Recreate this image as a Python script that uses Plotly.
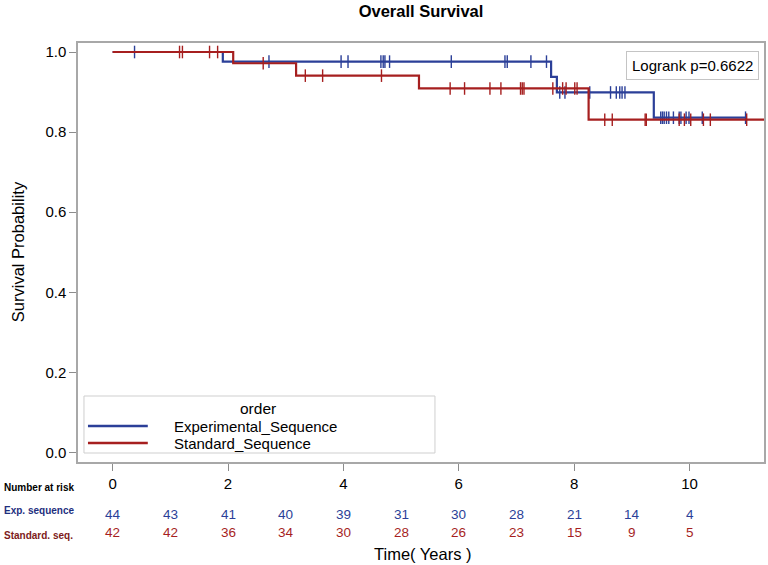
import numpy as np
import plotly.graph_objects as go

# Kaplan-Meier step curves (time in years, survival probability)
exp_times = [0, 1.91, 7.60, 7.70, 9.38, 10.97]
exp_surv = [1.0, 0.976, 0.938, 0.899, 0.836, 0.836]
std_times = [0, 2.09, 3.18, 5.31, 8.25, 11.4]
std_surv = [1.0, 0.972, 0.941, 0.909, 0.831, 0.831]

# censored observations
exp_censor = [0.38, 2.71, 3.96, 4.08, 4.65, 4.69, 4.72, 4.80, 5.87, 6.80, 6.84,
              7.25, 7.52, 7.75, 7.84, 8.27, 8.63, 8.73, 8.79, 8.83, 8.88, 9.50,
              9.53, 9.56, 9.60, 9.64, 9.72, 9.82, 9.85, 9.94, 9.99, 10.22, 10.97]
std_censor = [1.16, 1.21, 1.68, 1.82, 2.61, 3.34, 3.64, 4.66, 5.85, 6.10, 6.54,
              6.73, 7.07, 7.10, 7.13, 7.63, 7.80, 7.86, 8.01, 8.05, 8.53, 8.66,
              9.23, 9.25, 9.82, 9.91, 10.02, 10.24, 10.36, 10.99]

# number at risk table
risk_times = [0, 1, 2, 3, 4, 5, 6, 7, 8, 9, 10]
exp_risk = [44, 43, 41, 40, 39, 31, 30, 28, 21, 14, 4]
std_risk = [42, 42, 36, 34, 30, 28, 26, 23, 15, 9, 5]

group_names = ["Experimental_Sequence", "Standard_Sequence"]
row_labels = ["Exp. sequence", "Standard. seq."]
x_ticks = [0, 2, 4, 6, 8, 10]
y_ticks = [0.0, 0.2, 0.4, 0.6, 0.8, 1.0]

BLUE = "#2B3F98"
RED = "#A61F1F"
FONT = "Liberation Sans, Arial, sans-serif"

W, H = 768, 565
ML, MR, MT, MB = 78, 2, 43, 103
PW, PH = W - ML - MR, H - MT - MB


def px_x(px):
    return (px - ML) / PW


def px_y(py):
    return (MT + PH - py) / PH


def level_at(times, surv, t):
    i = np.searchsorted(times, t, side="right") - 1
    return surv[i]


def label(text, x, y, size, color="black", xanchor="center", xref="paper", **kw):
    return dict(text=text, xref=xref, yref="paper", x=x, y=y, xanchor=xanchor,
                yanchor="middle", showarrow=False, font=dict(size=size, color=color), **kw)


fig = go.Figure()

for times, surv, cens, col, name in [
    (exp_times, exp_surv, exp_censor, BLUE, group_names[0]),
    (std_times, std_surv, std_censor, RED, group_names[1]),
]:
    fig.add_trace(go.Scatter(x=times, y=surv, mode="lines", line_shape="hv",
                             line=dict(color=col, width=2.2), name=name,
                             showlegend=False, hoverinfo="skip"))
    cy = [level_at(times, surv, t) for t in cens]
    fig.add_trace(go.Scatter(x=cens, y=cy, mode="markers",
                             marker=dict(symbol="line-ns", size=9,
                                         line=dict(color=col, width=1.4)),
                             showlegend=False, hoverinfo="skip"))

ann = []
# axis titles
ann.append(label("Time( Years )", px_x(424), px_y(554), 16.5))
ann.append(label("Survival Probability", px_x(18), px_y(252), 16.5, textangle=-90))
# logrank box
ann.append(label("Logrank p=0.6622", px_x(694.5), px_y(65), 15, bgcolor="white",
                 bordercolor="#C4C4C4", borderwidth=1, borderpad=5))
# number at risk
ann.append(label("<b>Number at risk</b>", px_x(2), px_y(487), 10, xanchor="left"))
for lab, vals, col, lcol, ly, vy in [
    (row_labels[0], exp_risk, BLUE, "#1F2F7E", 510.5, 514.5),
    (row_labels[1], std_risk, RED, "#7E1B1B", 535, 532.5),
]:
    ann.append(label("<b>" + lab + "</b>", px_x(2), px_y(ly), 10, lcol, xanchor="left"))
    for t, v in zip(risk_times, vals):
        ann.append(label(str(v), t, px_y(vy), 13.5, col, xref="x"))

# legend (drawn by hand to match the wide SAS legend box)
ann.append(label("order", px_x(259), px_y(408), 15.5))
shapes = [dict(type="rect", xref="paper", yref="paper", x0=px_x(84), x1=px_x(436),
               y0=px_y(396), y1=px_y(453), line=dict(color="#CFCFCF", width=1),
               fillcolor="white", layer="above")]
for name, col, ly in [(group_names[0], BLUE, 426), (group_names[1], RED, 443)]:
    shapes.append(dict(type="line", xref="paper", yref="paper", x0=px_x(88), x1=px_x(148),
                       y0=px_y(ly), y1=px_y(ly), line=dict(color=col, width=2.5), layer="above"))
    ann.append(label(name, px_x(172), px_y(ly), 15, xanchor="left"))

fig.update_layout(
    width=W, height=H,
    margin=dict(l=ML, r=MR, t=MT, b=MB),
    paper_bgcolor="white", plot_bgcolor="white",
    font=dict(family=FONT, color="black"),
    title=dict(text="<b>Overall Survival</b>", x=0.5, xref="paper", y=1 - 11 / H,
               yref="container", yanchor="middle", font=dict(size=16.5, color="black")),
    xaxis=dict(range=[-0.6, 11.29], tickvals=x_ticks, ticks="outside", ticklen=7,
               tickcolor="#8C8C8C", showline=True, linecolor="#A8A8A8", linewidth=1.5,
               mirror=True, showgrid=False, zeroline=False, tickfont=dict(size=15),
               ticklabelstandoff=0),
    yaxis=dict(range=[-0.0235, 1.0225], tickvals=y_ticks, tickformat=".1f", ticks="outside",
               ticklen=7, tickcolor="#8C8C8C", showline=True, linecolor="#A8A8A8",
               linewidth=1.5, mirror=True, showgrid=False, zeroline=False,
               tickfont=dict(size=15)),
    annotations=ann,
    shapes=shapes,
    showlegend=False,
)

fig.write_html("out.html", config={"displayModeBar": False},
               post_script="document.body.style.margin='0px';")
